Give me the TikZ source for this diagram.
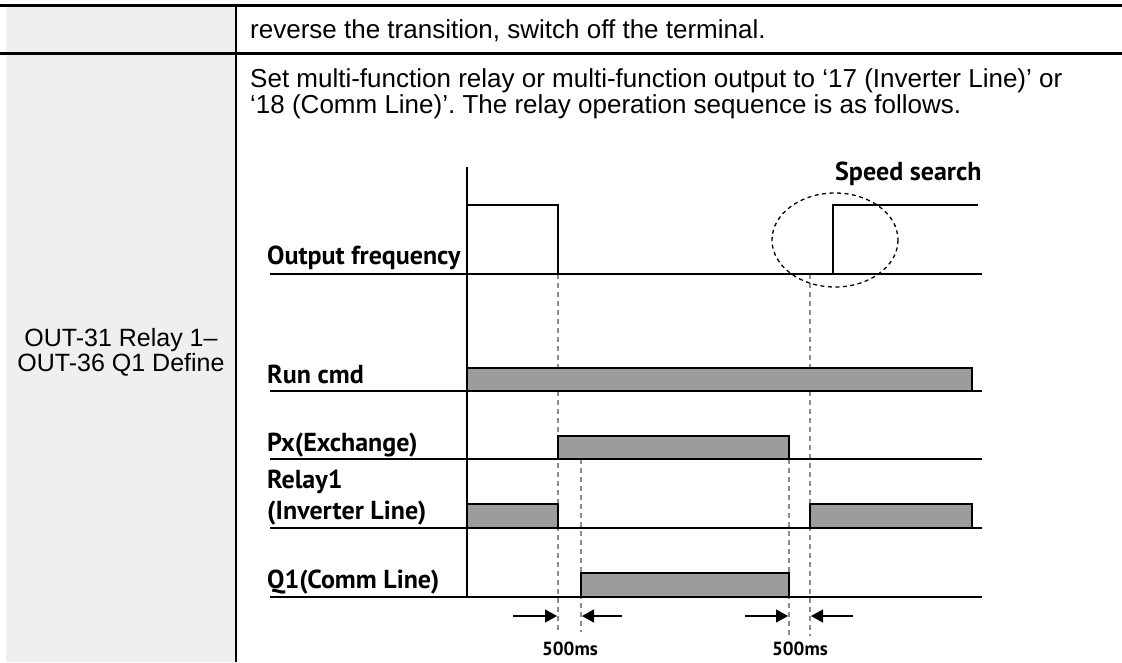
\documentclass[tikz,border=0pt]{standalone}
\usepackage{fontspec}
\setmainfont{Liberation Sans}
\newfontfamily\sigfont{PT Sans}
\usetikzlibrary{arrows.meta,positioning,calc}
\definecolor{cellgray}{RGB}{239,239,239}
\definecolor{bargray}{RGB}{156,156,156}
\definecolor{guidegray}{RGB}{140,140,140}
\frenchspacing

\begin{document}
\begin{tikzpicture}[x=1pt,y=-1pt,
  bodytext/.style={anchor=base west, inner sep=0pt, font=\fontsize{26}{30}\selectfont},
  siglabel/.style={anchor=base west, inner sep=0pt, font=\sigfont\bfseries\fontsize{26}{30}\selectfont},
  timelabel/.style={anchor=base, inner sep=0pt, font=\sigfont\bfseries\fontsize{19}{22}\selectfont},
  bar/.style={draw=black, line width=1.2pt, fill=bargray},
  baseline/.style={line width=1.5pt},
  wave/.style={line width=1.3pt},
  guide/.style={guidegray, dash pattern=on 5pt off 4pt, line width=1.2pt},
  gap/.style={-{Triangle[length=12pt,width=13pt]}, line width=1.4pt}
]
\useasboundingbox (0,0) rectangle (1122,662);

% ================= TABLE =================
\fill[cellgray] (6,7) rectangle (236,52);
\fill[cellgray] (6,55) rectangle (236,662);
\draw[line width=3pt] (0,5) -- (1122,5);
\draw[line width=2.2pt] (0,53.5) -- (1122,53.5);
\draw[line width=2pt] (236,5) -- (236,662);

\node[bodytext] (reverse) at (250,38) {reverse the transition, switch off the terminal.};
\node[bodytext] (setline) at (250,87) {Set multi-function relay or multi-function output to ‘17 (Inverter Line)’ or};
\node[bodytext] (seqline) at (250,113) {‘18 (Comm Line)’. The relay operation sequence is as follows.};
\node[align=center, inner sep=0pt, font=\fontsize{25}{25}\selectfont] (param) at (121,352)
  {OUT-31 Relay 1–\\OUT-36 Q1 Define};

% ================= TIME AXIS & GUIDES =================
\coordinate (axtop) at (467,167);
\coordinate (axbot) at (467,597);
\draw[guide] (558,274) -- (558,632);
\draw[guide] (581,459) -- (581,632);
\draw[guide] (789,459) -- (789,636);
\draw[guide] (810,274) -- (810,636);

% ================= OUTPUT FREQUENCY =================
\node[siglabel] (outfreq) at (267,264) {Output frequency};
\draw[baseline] (270,274) -- (982,274);
\draw[wave] (467,205) -- (558,205) -- (558,274);
\draw[wave] (833,274) -- (833,205) -- (978,205);
\node[siglabel] (search) at (835,180) {Speed search};
\draw[wave, dashed, dash pattern=on 4pt off 3.5pt] (835,240) ellipse [x radius=63, y radius=47];

% ================= RUN CMD =================
\node[siglabel] (runcmd) at (267,383) {Run cmd};
\draw[baseline] (270,391) -- (982,391);
\draw[bar] (467,368) rectangle (972,391);

% ================= PX (EXCHANGE) =================
\node[siglabel] (px) at (267,451) {Px(Exchange)};
\draw[baseline] (270,459) -- (982,459);
\draw[bar] (558,436) rectangle (789,459);

% ================= RELAY1 =================
\node[siglabel] (relay) at (267,488) {Relay1};
\node[siglabel] (invline) at (267,519) {(Inverter Line)};
\draw[baseline] (270,528) -- (982,528);
\draw[bar] (467,504) rectangle (558,528);
\draw[bar] (810,504) rectangle (972,528);

% ================= Q1 (COMM LINE) =================
\node[siglabel] (q1) at (267,588) {Q1(Comm Line)};
\draw[baseline] (270,597) -- (982,597);
\draw[bar] (581,573) rectangle (789,597);

\draw[line width=1.5pt] (axtop) -- (axbot);

% ================= 500ms GAPS =================
\coordinate (ga1) at (513,616);
\coordinate (ga2) at (557,616);
\coordinate (gb1) at (622,616);
\coordinate (gb2) at (582,616);
\coordinate (gc1) at (745,616);
\coordinate (gc2) at (788,616);
\coordinate (gd1) at (853,616);
\coordinate (gd2) at (811,616);
\draw[gap] (ga1) -- (ga2);
\draw[gap] (gb1) -- (gb2);
\draw[gap] (gc1) -- (gc2);
\draw[gap] (gd1) -- (gd2);
\node[timelabel] (gapone) at (570,655) {500ms};
\node[timelabel] (gaptwo) at (800,655) {500ms};

\end{tikzpicture}
\end{document}
